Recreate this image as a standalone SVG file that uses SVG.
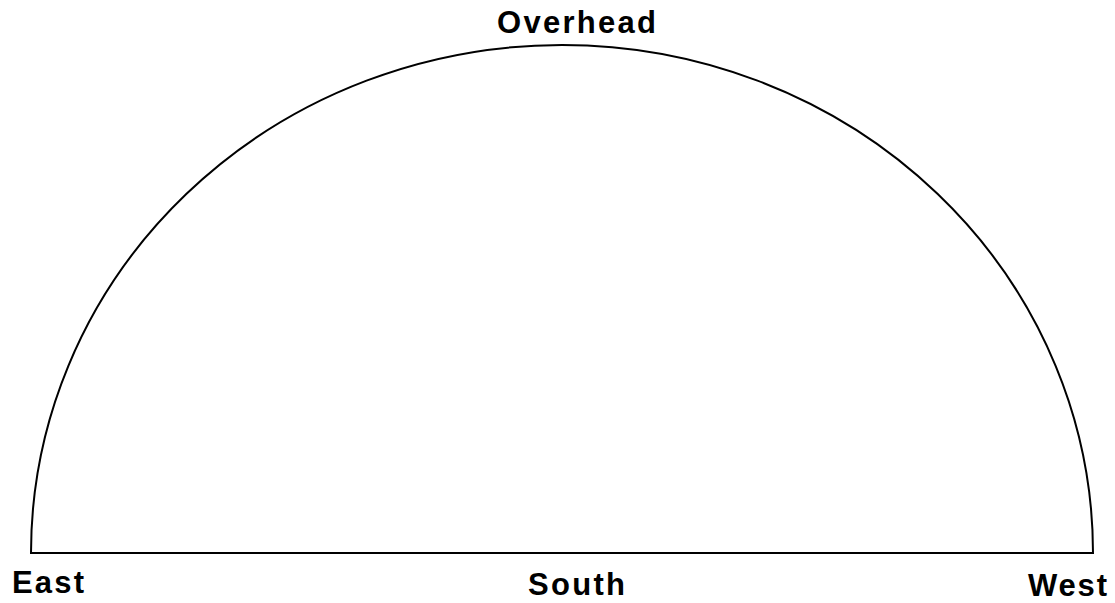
<svg xmlns="http://www.w3.org/2000/svg" width="1115" height="603" viewBox="0 0 1115 603">
<style>
.lbl{font-family:"Liberation Sans",Arial,sans-serif;font-weight:bold;font-size:31px;fill:#000}
.ln{fill:none;stroke:#000;stroke-width:2}
</style>
<rect width="1115" height="603" fill="#fff"/>
<g id="dome">
<path class="ln" d="M31,553 A531,508 0 0 1 1093,553 Z"/>
</g>
<g id="overhead"><text class="lbl" x="497" y="33" textLength="159" lengthAdjust="spacing">Overhead</text></g>
<g id="east"><text class="lbl" x="12" y="593" textLength="72" lengthAdjust="spacing">East</text></g>
<g id="south"><text class="lbl" x="528" y="595" textLength="97" lengthAdjust="spacing">South</text></g>
<g id="west"><text class="lbl" x="1028" y="596" textLength="79" lengthAdjust="spacing">West</text></g>
</svg>
